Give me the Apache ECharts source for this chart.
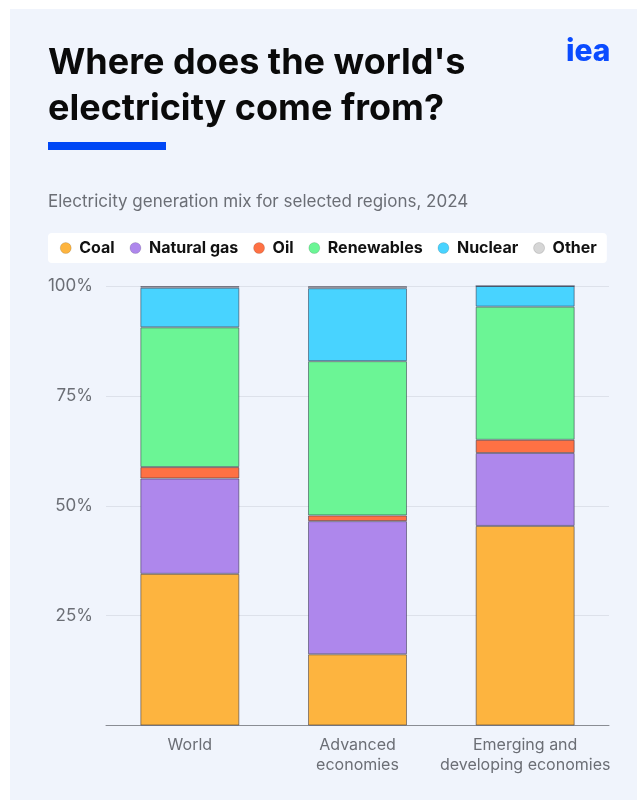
<!DOCTYPE html>
<html>
<head>
<meta charset="utf-8">
<script src="https://cdn.jsdelivr.net/npm/echarts@6/dist/echarts.min.js"></script>
<style>
  html, body { margin: 0; padding: 0; background: #ffffff; }
  #chart { width: 637px; height: 800px; }
</style>
</head>
<body>
<div id="chart"></div>
<script>
// Regions and generation shares (% of total electricity generation, 2024)
const regions = ['World', 'Advanced\neconomies', 'Emerging and\ndeveloping economies'];
const coal       = [34.5, 16.2, 45.4];
const naturalGas = [21.7, 30.3, 16.6];
const oil        = [2.6, 1.3, 3.0];
const renewables = [31.8, 35.1, 30.3];
const nuclear    = [9.0, 16.6, 4.7];
const other      = [0.4, 0.5, 0.0];

const yTicks = [0, 25, 50, 75, 100];

const sources = [
  { name: 'Coal',        data: coal,       color: '#FDB43F' },
  { name: 'Natural gas', data: naturalGas, color: '#AE87EC' },
  { name: 'Oil',         data: oil,        color: '#FE7144' },
  { name: 'Renewables',  data: renewables, color: '#6BF595' },
  { name: 'Nuclear',     data: nuclear,    color: '#48D3FF' },
  { name: 'Other',       data: other,      color: '#D6D6D6' }
];

const chart = echarts.init(document.getElementById('chart'), null, { renderer: 'canvas' });

const font = 'Inter, "Noto Sans", Roboto, sans-serif';

chart.setOption({
  animation: false,
  backgroundColor: '#ffffff',
  textStyle: { fontFamily: font },
  graphic: [
    { type: 'rect', z: -10, shape: { x: 10, y: 9, width: 627, height: 791 },
      style: { fill: '#F0F4FC' } },
    { type: 'text', left: 48, top: 40,
      style: { text: "Where does the world's\nelectricity come from?", fill: '#0a0a0a',
               font: '700 36px ' + font, lineHeight: 46 } },
    { type: 'text', left: 566, top: 37,
      style: { text: 'iea', fill: '#0A4BFF', font: '800 30px ' + font } },
    { type: 'rect', shape: { x: 48, y: 142, width: 118, height: 8 },
      style: { fill: '#0047F5' } },
    { type: 'text', left: 48, top: 193,
      style: { text: 'Electricity generation mix for selected regions, 2024', fill: '#6b6e75',
               font: '400 17px ' + font } }
  ],
  legend: {
    left: 48, top: 233,
    width: 560,
    padding: [7, 10, 7, 12],
    backgroundColor: '#ffffff',
    borderRadius: 4,
    icon: 'circle',
    itemWidth: 11,
    itemHeight: 11,
    itemGap: 15,
    textStyle: { fontFamily: font, fontSize: 16, fontWeight: 700, color: '#111111', padding: [0, 0, 0, 3] },
    data: sources.map(s => ({ name: s.name, itemStyle: { borderColor: 'rgba(0,0,0,0.25)', borderWidth: 0.5 } }))
  },
  grid: { left: 106, right: 28, top: 286, bottom: 74.5, containLabel: false },
  xAxis: {
    type: 'category',
    data: regions,
    axisLine: { show: true, lineStyle: { color: '#8a8d94', width: 1 } },
    axisTick: { show: false },
    axisLabel: { interval: 0, color: '#6b6e75', fontSize: 16, lineHeight: 20, margin: 10, fontFamily: font }
  },
  yAxis: {
    type: 'value',
    min: 0, max: 100, interval: 25,
    axisLine: { show: false },
    axisTick: { show: false },
    splitLine: { lineStyle: { color: '#dde1ea', width: 1 } },
    axisLabel: {
      color: '#6b6e75', fontSize: 17, margin: 13, fontFamily: font,
      formatter: v => (yTicks.indexOf(v) > 0 ? v + '%' : '')
    }
  },
  series: sources.map(s => ({
    name: s.name,
    type: 'bar',
    stack: 'mix',
    barWidth: 99,
    data: s.data,
    itemStyle: { color: s.color, borderColor: 'rgba(40,40,60,0.5)', borderWidth: 1 },
    emphasis: { disabled: true }
  }))
});
</script>
</body>
</html>
